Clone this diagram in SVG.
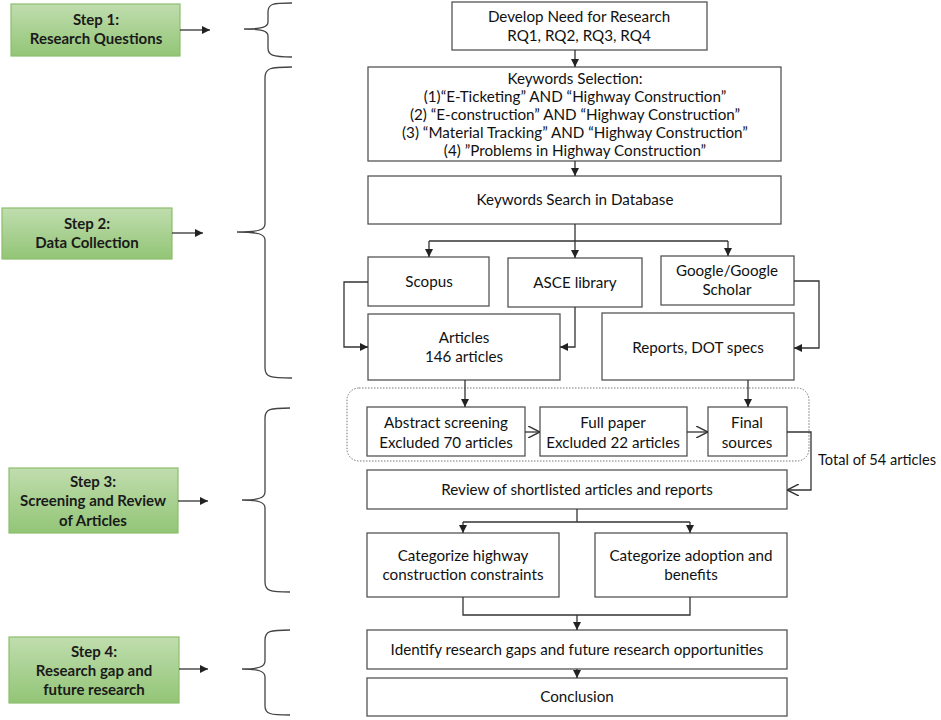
<svg xmlns="http://www.w3.org/2000/svg" width="941" height="720" viewBox="0 0 941 720">
<defs>
<linearGradient id="g" x1="0" y1="0" x2="0" y2="1">
<stop offset="0" stop-color="#c0ddae"/>
<stop offset="1" stop-color="#92c576"/>
</linearGradient>
<marker id="a" viewBox="0 0 10 10" refX="10" refY="5" markerWidth="8" markerHeight="8" markerUnits="userSpaceOnUse" orient="auto">
<path d="M0,0 L10,5 L0,10 z" fill="#222"/>
</marker>
<marker id="o" viewBox="0 0 10 10" refX="10" refY="5" markerWidth="12" markerHeight="12" markerUnits="userSpaceOnUse" orient="auto">
<path d="M0,0 L10,5 L0,10" fill="none" stroke="#333" stroke-width="1.2"/>
</marker>
</defs>
<style>
.b{fill:#fff;stroke:#555;stroke-width:1.3}
.s{fill:url(#g);stroke:#8cbf6c;stroke-width:1.2}
.t{font-family:Lato,"Open Sans",sans-serif;font-size:15.2px;fill:#111;text-anchor:middle}
.st{font-family:Lato,"Open Sans",sans-serif;font-size:15px;font-weight:bold;fill:#1a1a1a;text-anchor:middle}
.c{fill:none;stroke:#333;stroke-width:1.3}
.br{fill:none;stroke:#444;stroke-width:1.3}
</style>
<rect width="941" height="720" fill="#fff"/>

<g id="step1"><rect class="s" x="11" y="4" width="169" height="52"/><text class="st" x="96" y="25">Step 1:</text><text class="st" x="96" y="44">Research Questions</text></g>
<g id="step2"><rect class="s" x="2" y="208" width="170" height="51"/><text class="st" x="87" y="229">Step 2:</text><text class="st" x="87" y="248">Data Collection</text></g>
<g id="step3"><rect class="s" x="9" y="468" width="169" height="65"/><text class="st" x="93" y="487">Step 3:</text><text class="st" x="93" y="506">Screening and Review</text><text class="st" x="93" y="526">of Articles</text></g>
<g id="step4"><rect class="s" x="9" y="637" width="170" height="66"/><text class="st" x="94" y="657">Step 4:</text><text class="st" x="94" y="676">Research gap and</text><text class="st" x="94" y="695">future research</text></g>

<g id="braces">
<path class="br" d="M292,3 C272,3 268,4 268,12 L268,22 C268,27 262,29 244,29 C262,29 268,31 268,36 L268,48 C268,55 272,57 292,57"/>
<path class="br" d="M292,67 C270,67 265,68 265,78 L265,224 C265,230 258,232 237,232 C258,232 265,234 265,240 L265,368 C265,377 270,378 292,378"/>
<path class="br" d="M290,408 C270,408 265,409 265,418 L265,492 C265,498 258,500 242,500 C258,500 265,502 265,508 L265,582 C265,591 270,592 290,592"/>
<path class="br" d="M290,630 C270,630 265,631 265,640 L265,661 C265,667 258,669 242,669 C258,669 265,671 265,677 L265,706 C265,714 270,715 290,715"/>
</g>

<g id="dotted"><rect x="347" y="388" width="462" height="73" rx="12" ry="12" fill="none" stroke="#777" stroke-width="1" stroke-dasharray="1.5,1.5"/></g>

<g id="n1"><rect class="b" x="452" y="2" width="255" height="48"/><text class="t" x="579" y="22">Develop Need for Research</text><text class="t" x="579" y="41">RQ1, RQ2, RQ3, RQ4</text></g>
<g id="n2"><rect class="b" x="368" y="67" width="413" height="94"/>
<text class="t" x="575" y="84">Keywords Selection:</text>
<text class="t" x="575" y="102">(1)“E-Ticketing” AND “Highway Construction”</text>
<text class="t" x="575" y="120">(2) “E-construction” AND “Highway Construction”</text>
<text class="t" x="575" y="138">(3) “Material Tracking” AND “Highway Construction”</text>
<text class="t" x="575" y="156">(4) ”Problems in Highway Construction”</text></g>
<g id="n3"><rect class="b" x="368" y="176" width="413" height="48"/><text class="t" x="575" y="205">Keywords Search in Database</text></g>
<g id="n4"><rect class="b" x="368" y="257" width="121" height="49"/><text class="t" x="429" y="287">Scopus</text></g>
<g id="n5"><rect class="b" x="508" y="258" width="134" height="49"/><text class="t" x="575" y="288">ASCE library</text></g>
<g id="n6"><rect class="b" x="661" y="256" width="133" height="49"/><text class="t" x="727" y="276">Google/Google</text><text class="t" x="727" y="295">Scholar</text></g>
<g id="n7"><rect class="b" x="368" y="314" width="192" height="66"/><text class="t" x="464" y="343">Articles</text><text class="t" x="464" y="362">146 articles</text></g>
<g id="n8"><rect class="b" x="602" y="313" width="192" height="67"/><text class="t" x="698" y="353">Reports, DOT specs</text></g>
<g id="n9"><rect class="b" x="367" y="407" width="158" height="49"/><text class="t" x="446" y="428">Abstract screening</text><text class="t" x="446" y="448">Excluded 70 articles</text></g>
<g id="n10"><rect class="b" x="540" y="407" width="147" height="49"/><text class="t" x="613" y="428">Full paper</text><text class="t" x="613" y="448">Excluded 22 articles</text></g>
<g id="n11"><rect class="b" x="708" y="407" width="79" height="49"/><text class="t" x="747" y="428">Final</text><text class="t" x="747" y="448">sources</text></g>
<g id="n12"><rect class="b" x="367" y="470" width="420" height="39"/><text class="t" x="577" y="495">Review of shortlisted articles and reports</text></g>
<g id="n13"><rect class="b" x="367" y="533" width="192" height="64"/><text class="t" x="463" y="561">Categorize highway</text><text class="t" x="463" y="580">construction constraints</text></g>
<g id="n14"><rect class="b" x="595" y="533" width="192" height="64"/><text class="t" x="691" y="561">Categorize adoption and</text><text class="t" x="691" y="580">benefits</text></g>
<g id="n15"><rect class="b" x="367" y="630" width="420" height="39"/><text class="t" x="577" y="655">Identify research gaps and future research opportunities</text></g>
<g id="n16"><rect class="b" x="367" y="678" width="420" height="38"/><text class="t" x="577" y="702">Conclusion</text></g>

<g id="connectors">
<path class="c" d="M180,30 H210" marker-end="url(#a)"/>
<path class="c" d="M172,233 H203" marker-end="url(#a)"/>
<path class="c" d="M178,501 H208" marker-end="url(#a)"/>
<path class="c" d="M179,669 H208" marker-end="url(#a)"/>
<path class="c" d="M575,50 V67" marker-end="url(#a)"/>
<path class="c" d="M575,161 V176" marker-end="url(#a)"/>
<path class="c" d="M575,224 V258" marker-end="url(#a)"/>
<path class="c" d="M429,241 H728"/>
<path class="c" d="M429,241 V257" marker-end="url(#a)"/>
<path class="c" d="M728,241 V256" marker-end="url(#a)"/>
<path class="c" d="M368,282 H344 V347 H368" marker-end="url(#a)"/>
<path class="c" d="M575,307 V347 H560" marker-end="url(#a)"/>
<path class="c" d="M794,281 H819 V348 H794" marker-end="url(#a)"/>
<path class="c" d="M465,380 V407" marker-end="url(#a)"/>
<path class="c" d="M748,380 V407" marker-end="url(#a)"/>
<path class="c" d="M525,432 H540" marker-end="url(#o)"/>
<path class="c" d="M687,432 H708" marker-end="url(#o)"/>
<path class="c" d="M787,432 H811 V490 H787" marker-end="url(#o)"/>
<path class="c" d="M577,509 V522"/>
<path class="c" d="M463,522 H690"/>
<path class="c" d="M463,522 V533" marker-end="url(#a)"/>
<path class="c" d="M690,522 V533" marker-end="url(#a)"/>
<path class="c" d="M463,597 V615 H690 V597"/>
<path class="c" d="M577,615 V630" marker-end="url(#a)"/>
<path class="c" d="M577,669 V678" marker-end="url(#a)"/>
<text class="t" x="818" y="465" style="text-anchor:start" textLength="118" lengthAdjust="spacingAndGlyphs">Total of 54 articles</text>
</g>
</svg>
